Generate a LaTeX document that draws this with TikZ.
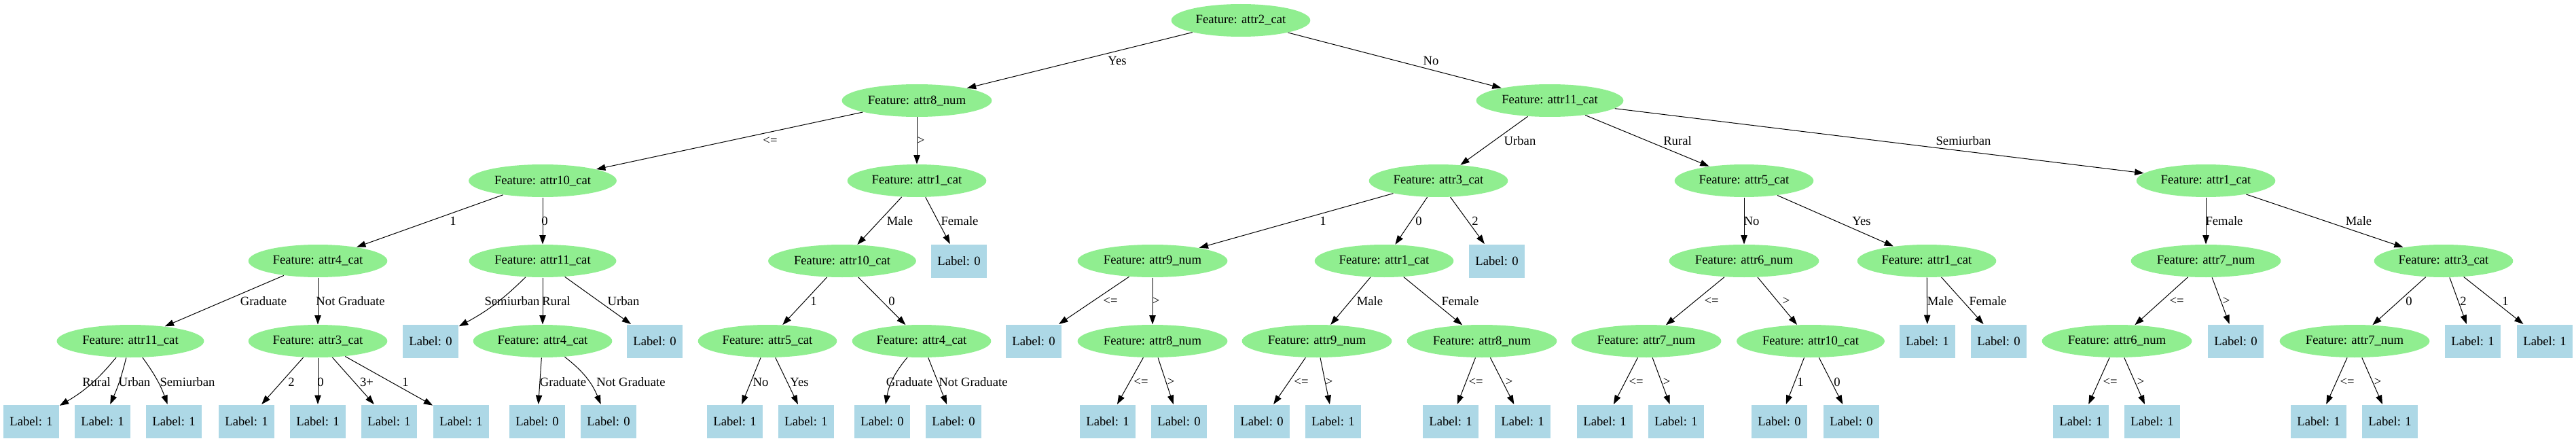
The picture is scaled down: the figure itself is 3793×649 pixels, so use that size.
\documentclass[tikz,border=0pt]{standalone}
\usepackage{fontspec}
\setmainfont{Liberation Serif}
\usetikzlibrary{shapes.geometric,arrows.meta}
\definecolor{featgreen}{HTML}{90EE90}
\definecolor{leafblue}{HTML}{ADD8E6}

\begin{document}
\begin{tikzpicture}[x=0.75pt,y=-0.75pt,line width=0.75pt,
	every node/.style={font=\fontsize{14}{16}\selectfont},
	feat/.style={ellipse,fill=featgreen,inner xsep=4.5pt,inner ysep=0pt,minimum height=36pt},
	leaf/.style={rectangle,fill=leafblue,inner sep=0pt,minimum width=62pt,minimum height=36.75pt},
	lbl/.style={inner sep=0pt}]
		\useasboundingbox (0,0) rectangle (3793,649);
		% features
		\node[feat] (f0) at (1827,30) {Feature: attr2\_cat};
		\node[feat] (f1) at (1350,148) {Feature: attr8\_num};
		\node[feat] (f12) at (2282,148) {Feature: attr11\_cat};
		\node[feat] (f2) at (799,266) {Feature: attr10\_cat};
		\node[feat] (f8) at (1350,266) {Feature: attr1\_cat};
		\node[feat] (f13) at (2118,266) {Feature: attr3\_cat};
		\node[feat] (f19) at (2568,266) {Feature: attr5\_cat};
		\node[feat] (f24) at (3248,266) {Feature: attr1\_cat};
		\node[feat] (f3) at (468,384) {Feature: attr4\_cat};
		\node[feat] (f6) at (799,384) {Feature: attr11\_cat};
		\node[feat] (f9) at (1240,384) {Feature: attr10\_cat};
		\node[feat] (f14) at (1697,384) {Feature: attr9\_num};
		\node[feat] (f16) at (2038,384) {Feature: attr1\_cat};
		\node[feat] (f20) at (2568,384) {Feature: attr6\_num};
		\node[feat] (f23) at (2837,384) {Feature: attr1\_cat};
		\node[feat] (f25) at (3248,384) {Feature: attr7\_num};
		\node[feat] (f27) at (3598,384) {Feature: attr3\_cat};
		\node[feat] (f4) at (192,502) {Feature: attr11\_cat};
		\node[feat] (f5) at (468,502) {Feature: attr3\_cat};
		\node[feat] (f7) at (799,502) {Feature: attr4\_cat};
		\node[feat] (f10) at (1130,502) {Feature: attr5\_cat};
		\node[feat] (f11) at (1357,502) {Feature: attr4\_cat};
		\node[feat] (f15) at (1697,502) {Feature: attr8\_num};
		\node[feat] (f17) at (1939,502) {Feature: attr9\_num};
		\node[feat] (f18) at (2182,502) {Feature: attr8\_num};
		\node[feat] (f21) at (2424,502) {Feature: attr7\_num};
		\node[feat] (f22) at (2666,502) {Feature: attr10\_cat};
		\node[feat] (f26) at (3117,502) {Feature: attr6\_num};
		\node[feat] (f28) at (3467,502) {Feature: attr7\_num};
		% leaves
		\node[leaf] (d1) at (1412,384) {Label: 0};
		\node[leaf] (d2) at (2204,384) {Label: 0};
		\node[leaf] (c1) at (634,502) {Label: 0};
		\node[leaf] (c2) at (964,502) {Label: 0};
		\node[leaf] (c3) at (1522,502) {Label: 0};
		\node[leaf] (c4) at (2838,502) {Label: 1};
		\node[leaf] (c5) at (2943,502) {Label: 0};
		\node[leaf] (c6) at (3292,502) {Label: 0};
		\node[leaf] (c7) at (3641,502) {Label: 1};
		\node[leaf] (c8) at (3747,502) {Label: 1};
		\node[leaf] (b1) at (46,620) {Label: 1};
		\node[leaf] (b2) at (151,620) {Label: 1};
		\node[leaf] (b3) at (256,620) {Label: 1};
		\node[leaf] (b4) at (363,620) {Label: 1};
		\node[leaf] (b5) at (468,620) {Label: 1};
		\node[leaf] (b6) at (573,620) {Label: 1};
		\node[leaf] (b7) at (679,620) {Label: 1};
		\node[leaf] (b8) at (791,620) {Label: 0};
		\node[leaf] (b9) at (896,620) {Label: 0};
		\node[leaf] (b10) at (1082,620) {Label: 1};
		\node[leaf] (b11) at (1187,620) {Label: 1};
		\node[leaf] (b12) at (1299,620) {Label: 0};
		\node[leaf] (b13) at (1404,620) {Label: 0};
		\node[leaf] (b14) at (1631,620) {Label: 1};
		\node[leaf] (b15) at (1736,620) {Label: 0};
		\node[leaf] (b16) at (1858,620) {Label: 0};
		\node[leaf] (b17) at (1963,620) {Label: 1};
		\node[leaf] (b18) at (2136,620) {Label: 1};
		\node[leaf] (b19) at (2242,620) {Label: 1};
		\node[leaf] (b20) at (2363,620) {Label: 1};
		\node[leaf] (b21) at (2468,620) {Label: 1};
		\node[leaf] (b22) at (2620,620) {Label: 0};
		\node[leaf] (b23) at (2726,620) {Label: 0};
		\node[leaf] (b24) at (3064,620) {Label: 1};
		\node[leaf] (b25) at (3169,620) {Label: 1};
		\node[leaf] (b26) at (3414,620) {Label: 1};
		\node[leaf] (b27) at (3519,620) {Label: 1};
		\path[-{Triangle[length=10pt,width=7pt]}]
			(f0) edge (f1) % Yes
			(f0) edge (f12) % No
			(f1) edge (f2) (f1) edge (f8)
			(f2) edge (f3) (f2) edge (f6)
			(f3) edge (f4) (f3) edge (f5)
			(f4) edge[bend left=10] (b1) (f4) edge[bend left=5] (b2) (f4) edge[bend left=8] (b3)
			(f5) edge (b4) (f5) edge (b5) (f5) edge (b6) (f5) edge (b7)
			(f6) edge[bend left=8] (c1) (f6) edge (f7) (f6) edge (c2)
			(f7) edge (b8) (f7) edge[bend left=15] (b9)
			(f8) edge (f9) (f8) edge (d1)
			(f9) edge (f10) (f9) edge (f11)
			(f10) edge (b10) (f10) edge (b11)
			(f11) edge[bend right=15] (b12) (f11) edge (b13)
			(f12) edge (f13) (f12) edge (f19) (f12) edge (f24)
			(f13) edge (f14) (f13) edge (f16) (f13) edge (d2)
			(f14) edge (c3) (f14) edge (f15)
			(f15) edge (b14) (f15) edge (b15)
			(f16) edge (f17) (f16) edge (f18)
			(f17) edge (b16) (f17) edge (b17)
			(f18) edge (b18) (f18) edge (b19)
			(f19) edge (f20) (f19) edge (f23)
			(f20) edge (f21) (f20) edge (f22)
			(f21) edge (b20) (f21) edge (b21)
			(f22) edge (b22) (f22) edge (b23)
			(f23) edge (c4) (f23) edge (c5)
			(f24) edge (f25) (f24) edge (f27)
			(f25) edge (f26) (f25) edge (c6)
			(f26) edge (b24) (f26) edge (b25)
			(f27) edge (f28) (f27) edge (c7) (f27) edge (c8)
			(f28) edge (b26) (f28) edge (b27)
			;
		% edge labels
		\node[lbl] (e1) at (1645,89) {Yes};
		\node[lbl] (e2) at (2107,89) {No};
		\node[lbl] (e3) at (1134,207) {<=};
		\node[lbl] (e4) at (1356,207) {>};
		\node[lbl] (e5) at (2238,207) {Urban};
		\node[lbl] (e6) at (2470,207) {Rural};
		\node[lbl] (e7) at (2891,207) {Semiurban};
		\node[lbl] (e8) at (667,325) {1};
		\node[lbl] (e9) at (802,325) {0};
		\node[lbl] (e10) at (1325,325) {Male};
		\node[lbl] (e11) at (1413,325) {Female};
		\node[lbl] (e12) at (1948,325) {1};
		\node[lbl] (e13) at (2089,325) {0};
		\node[lbl] (e14) at (2172,325) {2};
		\node[lbl] (e15) at (2579,325) {No};
		\node[lbl] (e16) at (2741,325) {Yes};
		\node[lbl] (e17) at (3275,325) {Female};
		\node[lbl] (e18) at (3473,325) {Male};
		\node[lbl] (e19) at (388,443) {Graduate};
		\node[lbl] (e20) at (516,443) {Not Graduate};
		\node[lbl] (e21) at (754,443) {Semiurban};
		\node[lbl] (e22) at (819,443) {Rural};
		\node[lbl] (e23) at (918,443) {Urban};
		\node[lbl] (e24) at (1198,443) {1};
		\node[lbl] (e25) at (1313,443) {0};
		\node[lbl] (e26) at (1635,443) {<=};
		\node[lbl] (e27) at (1702,443) {>};
		\node[lbl] (e28) at (2017,443) {Male};
		\node[lbl] (e29) at (2150,443) {Female};
		\node[lbl] (e30) at (2520,443) {<=};
		\node[lbl] (e31) at (2630,443) {>};
		\node[lbl] (e32) at (2857,443) {Male};
		\node[lbl] (e33) at (2927,443) {Female};
		\node[lbl] (e34) at (3205,443) {<=};
		\node[lbl] (e35) at (3278,443) {>};
		\node[lbl] (e36) at (3547,443) {0};
		\node[lbl] (e37) at (3627,443) {2};
		\node[lbl] (e38) at (3689,443) {1};
		\node[lbl] (e39) at (142,562) {Rural};
		\node[lbl] (e40) at (198,562) {Urban};
		\node[lbl] (e41) at (276,562) {Semiurban};
		\node[lbl] (e42) at (429,562) {2};
		\node[lbl] (e43) at (472,562) {0};
		\node[lbl] (e44) at (540,562) {3+};
		\node[lbl] (e45) at (597,562) {1};
		\node[lbl] (e46) at (829,562) {Graduate};
		\node[lbl] (e47) at (929,562) {Not Graduate};
		\node[lbl] (e48) at (1120,562) {No};
		\node[lbl] (e49) at (1177,562) {Yes};
		\node[lbl] (e50) at (1339,562) {Graduate};
		\node[lbl] (e51) at (1433,562) {Not Graduate};
		\node[lbl] (e52) at (1680,562) {<=};
		\node[lbl] (e53) at (1724,562) {>};
		\node[lbl] (e54) at (1916,562) {<=};
		\node[lbl] (e55) at (1957,562) {>};
		\node[lbl] (e56) at (2173,562) {<=};
		\node[lbl] (e57) at (2222,562) {>};
		\node[lbl] (e58) at (2409,562) {<=};
		\node[lbl] (e59) at (2454,562) {>};
		\node[lbl] (e60) at (2651,562) {1};
		\node[lbl] (e61) at (2705,562) {0};
		\node[lbl] (e62) at (3107,562) {<=};
		\node[lbl] (e63) at (3152,562) {>};
		\node[lbl] (e64) at (3456,562) {<=};
		\node[lbl] (e65) at (3501,562) {>};
\end{tikzpicture}
\end{document}
